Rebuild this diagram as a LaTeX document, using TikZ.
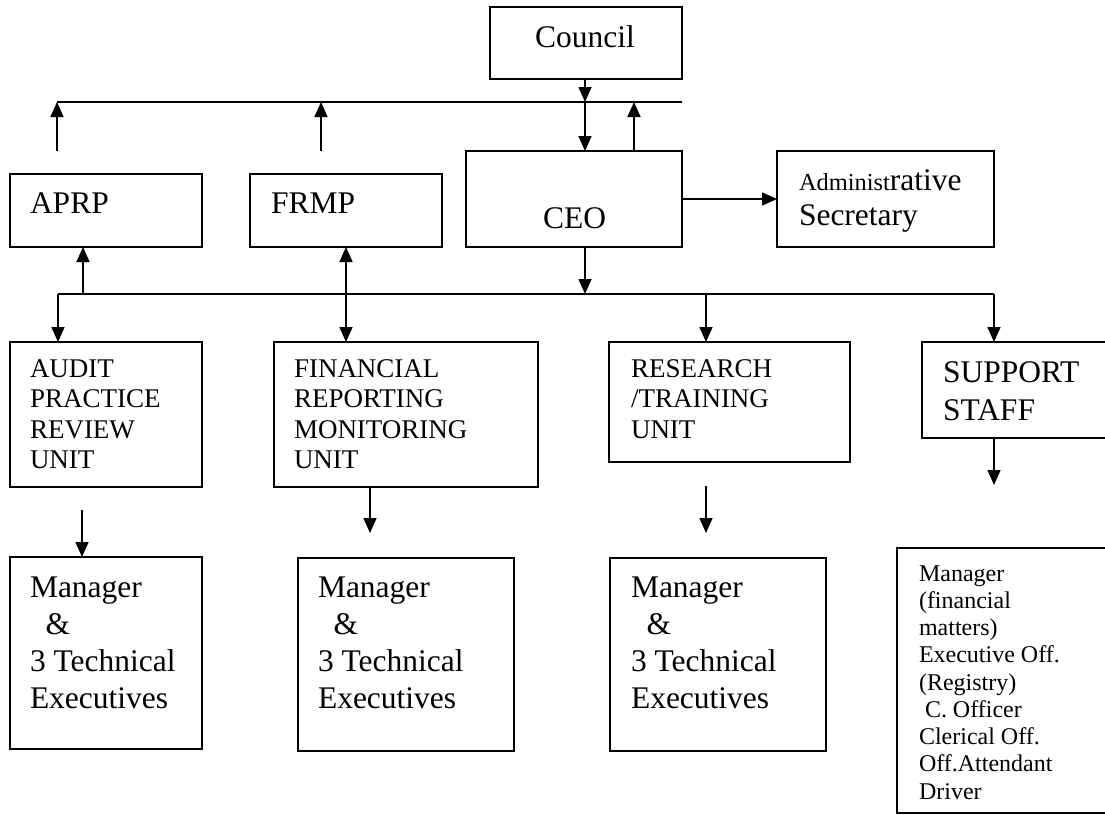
\documentclass[tikz,border=0pt]{standalone}
\usepackage{fontspec}
\setmainfont{Liberation Serif}
\usetikzlibrary{arrows.meta}
\newcommand{\mylines}[1]{\begin{tabular}[t]{@{}l@{}}#1\end{tabular}}
\begin{document}
\begin{tikzpicture}[x=1pt,y=-1pt,
  box/.style={draw, line width=1.6pt, inner sep=0pt, outer sep=0pt, anchor=north west},
  lbl/.style={anchor=base west, inner sep=0pt, outer sep=0pt},
  big/.style={font=\fontsize{31.5}{37}\selectfont},
  mid/.style={font=\fontsize{27}{30.5}\selectfont},
  small/.style={font=\fontsize{24}{27.25}\selectfont},
  conn/.style={line width=1.6pt},
  arr/.style={line width=1.6pt, -{Triangle[length=15pt,width=13pt]}},
  dbl/.style={line width=1.6pt, {Triangle[length=15pt,width=13pt]}-{Triangle[length=15pt,width=13pt]}}]
\useasboundingbox (0,0) rectangle (1105,814);

% boxes
\node[box, minimum width=192pt, minimum height=72pt] (council) at (490,7) {};
\node[box, minimum width=192pt, minimum height=73pt] (aprp) at (10,174) {};
\node[box, minimum width=192pt, minimum height=73pt] (frmp) at (250,174) {};
\node[box, minimum width=216pt, minimum height=96pt] (ceo) at (466,151) {};
\node[box, minimum width=217pt, minimum height=96pt] (admin) at (777,151) {};
\node[box, minimum width=192pt, minimum height=145pt] (audit) at (10,342) {};
\node[box, minimum width=264pt, minimum height=145pt] (finan) at (274,342) {};
\node[box, minimum width=241pt, minimum height=120pt] (research) at (609,342) {};
\node[box, minimum width=190pt, minimum height=96pt] (support) at (922,342) {};
\node[box, minimum width=192pt, minimum height=192pt] (mgra) at (10,557) {};
\node[box, minimum width=216pt, minimum height=193pt] (mgrb) at (298,558) {};
\node[box, minimum width=216pt, minimum height=193pt] (mgrc) at (610,558) {};
\node[box, minimum width=215pt, minimum height=265pt] (staff) at (897,548) {};

% texts
\node[lbl,big] (tcouncil) at (535,47) {Council};
\node[lbl,big] (taprp) at (30,213) {APRP};
\node[lbl,big] (tfrmp) at (271,213) {FRMP};
\node[lbl,big] (tceo) at (543,228) {CEO};
\node[lbl,big] (tadmin) at (799,190.5) {\mylines{{\fontsize{24.4}{29}\selectfont Administ}rative\\[-2.5pt]Secretary}};
\node[lbl,mid] (taudit) at (30,377) {\mylines{AUDIT\\PRACTICE\\REVIEW\\UNIT}};
\node[lbl,mid] (tfinan) at (294,377) {\mylines{FINANCIAL\\REPORTING\\MONITORING\\UNIT}};
\node[lbl,mid] (tresearch) at (631,377) {\mylines{RESEARCH\\/TRAINING\\UNIT}};
\node[lbl,font=\fontsize{31.5}{38}\selectfont] (tsupport) at (943,382) {\mylines{SUPPORT\\STAFF}};
\node[lbl,big] (tmgra) at (30,597) {\mylines{Manager\\\hspace*{15.5pt}\&\\3 Technical\\Executives}};
\node[lbl,big] (tmgrb) at (318,597) {\mylines{Manager\\\hspace*{15.5pt}\&\\3 Technical\\Executives}};
\node[lbl,big] (tmgrc) at (631,597) {\mylines{Manager\\\hspace*{15.5pt}\&\\3 Technical\\Executives}};
\node[lbl,small] (tstaff) at (919,581) {\mylines{Manager\\(financial\\matters)\\Executive Off.\\(Registry)\\\hspace*{6pt}C. Officer\\Clerical Off.\\Off.Attendant\\Driver}};

% coordinates
\coordinate (tbl) at (57,102);
\coordinate (tbr) at (682,102);
\coordinate (tbc) at (585,102);
\coordinate (tbu) at (634,102);
\coordinate (upa) at (57,151);
\coordinate (upb) at (321,151);
\coordinate (upbt) at (321,102);
\coordinate (bbl) at (58,294);
\coordinate (bbr) at (994,294);
\coordinate (bbc) at (585,294);
\coordinate (bba) at (83,294);
\coordinate (bbf) at (346,294);
\coordinate (bbr3) at (706,294);
\coordinate (da) at (82,510);
\coordinate (db) at (370,533);
\coordinate (dcs) at (706,486);
\coordinate (dce) at (706,533);
\coordinate (dd) at (994,485);

% connectors
\draw[conn] (tbl) -- (tbr);
\draw[arr] (council.south -| tbc) -- (tbc);
\draw[arr] (tbc) -- (ceo.north -| tbc);
\draw[arr] (ceo.north -| tbu) -- (tbu);
\draw[arr] (upa) -- (tbl);
\draw[arr] (upb) -- (upbt);
\draw[arr] (ceo.east) -- (admin.west);

\draw[conn] (bbl) -- (bbr);
\draw[arr] (ceo.south -| bbc) -- (bbc);
\draw[arr] (bba) -- (aprp.south -| bba);
\draw[dbl] (frmp.south -| bbf) -- (finan.north -| bbf);
\draw[arr] (bbl) -- (audit.north -| bbl);
\draw[arr] (bbr3) -- (research.north -| bbr3);
\draw[arr] (bbr) -- (support.north -| bbr);

\draw[arr] (da) -- (mgra.north -| da);
\draw[arr] (finan.south -| db) -- (db);
\draw[arr] (dcs) -- (dce);
\draw[arr] (support.south -| dd) -- (dd);
\end{tikzpicture}
\end{document}
